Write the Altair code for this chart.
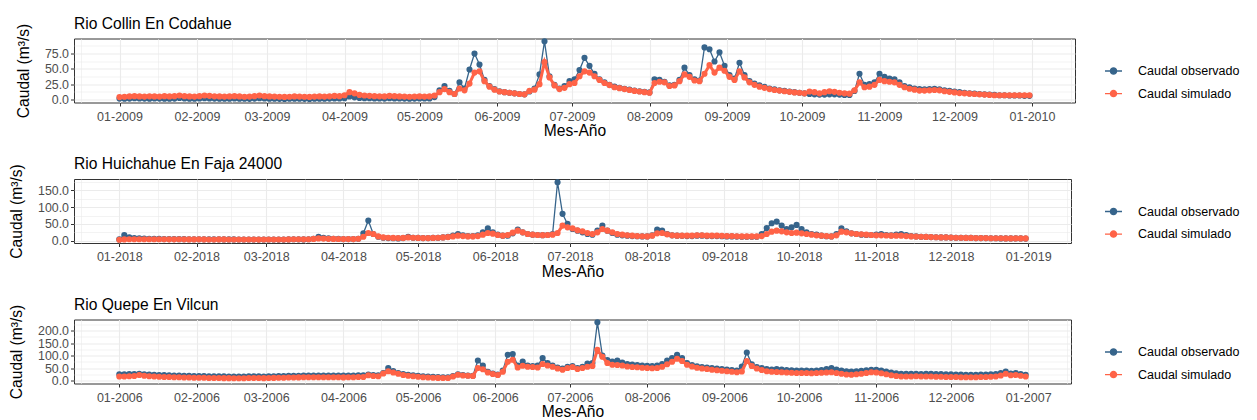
import altair as alt
import pandas as pd

# ---------------------------------------------------------------- data
SERIES = ["Caudal observado", "Caudal simulado"]
COLORS = ["#36648B", "#FF6347"]
STEP_DAYS = 2  # one reading every two days, starting on 1 January

TITLES = ["Rio Collin En Codahue", "Rio Huichahue En Faja 24000", "Rio Quepe En Vilcun"]
YEARS = [2009, 2018, 2006]
X_TITLE = "Mes-Año"
Y_TITLE = "Caudal (m³/s)"

OBS_1 = [1.5, 1.2, 1.5, 2.0, 1.8, 1.5, 1.4, 1.6, 1.5, 1.3,
         1.2, 1.5, 2.5, 1.8, 1.4, 1.3, 1.6, 2.2, 1.8, 1.5,
         1.3, 1.2, 1.4, 1.8, 1.4, 1.2, 1.1, 1.5, 2.2, 1.6,
         1.3, 1.2, 1.1, 1.0, 1.2, 1.4, 1.2, 1.1, 1.0, 1.2,
         1.4, 1.3, 1.5, 1.8, 1.6, 2.0, 5.0, 3.5, 2.5, 2.2,
         2.0, 1.8, 1.6, 1.5, 2.0, 1.8, 1.6, 1.5, 1.4, 1.5,
         1.8, 1.6, 1.8, 4.0, 15, 22, 14, 9, 28, 18,
         49, 75, 57, 32, 22, 17, 13.5, 12, 11, 10,
         9, 8.5, 13, 18, 41, 95, 38, 24, 18, 22,
         30, 33, 48, 68, 55, 42, 33, 28, 24, 21,
         19, 17.5, 16, 14.5, 13.5, 12.5, 11.5, 33, 32, 29,
         23, 24, 32, 52, 40, 33, 31, 85, 82, 62,
         77, 55, 40, 34, 60, 40, 30, 26, 23, 20.5,
         18, 16.5, 15, 14, 13, 12, 11, 10, 9, 8.5,
         8, 8, 8.5, 8.5, 8, 7.5, 7.5, 14, 42, 24,
         25, 28, 42, 37, 34, 33, 28, 22, 20, 18,
         17, 16.5, 17, 17.5, 16.5, 15, 14, 13, 12, 11,
         10, 9.5, 9, 8.5, 8, 7.5, 7, 7, 6.5, 6.5,
         6.5, 6, 6]
SIM_1 = [4.0, 4.5, 5.0, 5.5, 5.0, 4.8, 5.2, 5.0, 4.8, 5.5,
         5.0, 5.5, 6.5, 5.5, 5.0, 4.8, 5.5, 6.5, 6.0, 5.2,
         5.0, 4.8, 5.0, 5.5, 5.0, 4.5, 4.8, 5.5, 6.5, 5.5,
         5.0, 4.8, 4.5, 4.2, 4.5, 5.0, 4.8, 4.5, 4.2, 4.8,
         5.0, 4.8, 5.2, 5.8, 5.5, 7.0, 12, 10, 7.5, 6.5,
         6.0, 5.5, 5.2, 5.0, 5.8, 5.5, 5.0, 4.8, 4.5, 4.8,
         5.0, 4.8, 5.0, 6.5, 12, 17, 12, 9, 18, 15,
         26, 44, 46, 30, 21, 16, 13, 12, 11, 10,
         9, 8.5, 14, 16, 25, 61, 36, 23, 17, 19,
         25, 27, 38, 46, 44, 38, 32, 27, 23.5, 20,
         18.5, 17, 15.5, 14, 13, 12, 11, 27, 29, 28,
         22, 23, 30, 41, 37, 31, 30, 42, 56, 44,
         52, 47, 37, 32, 46, 36, 28, 24, 21, 19,
         17, 15.5, 14.5, 13.5, 12.5, 11.5, 11, 10, 13, 12,
         10, 12, 13.5, 12.5, 11, 10, 9.5, 15, 28, 20,
         21, 24, 32, 30, 29, 28, 24, 20, 17.5, 16,
         14.5, 14.5, 15, 15.5, 15, 13.5, 12.5, 11.5, 10.5, 10,
         9.5, 9, 8.5, 8, 7.5, 7, 7, 7, 7, 7,
         7, 7, 7]

OBS_2 = [4, 17, 10, 8, 7, 6.5, 6, 5.5, 5.5, 5,
         5, 5, 4.8, 4.6, 4.5, 4.5, 4.4, 4.3, 4.2, 4.2,
         4.2, 4, 4, 3.9, 3.8, 3.8, 3.8, 3.7, 3.7, 3.6,
         3.6, 3.6, 3.5, 3.5, 4, 4.5, 4.2, 4, 4.5, 6,
         12, 9, 7, 6, 5.5, 5, 5, 5, 6, 22,
         60, 20, 12, 9, 8, 7.5, 7, 8, 12, 9,
         8.5, 8, 8, 8.5, 9, 10, 12, 15, 20, 16,
         14, 14, 16, 25, 37, 25, 18, 15, 15, 22,
         33, 25, 20, 18, 17, 16.5, 17, 20, 174, 80,
         50, 35, 30, 25, 20, 18, 30, 45, 30, 23,
         18, 16, 15, 14, 13.5, 13, 13, 16, 33, 30,
         20, 16, 15, 14.5, 14, 14, 15, 15, 14, 14,
         14, 13.5, 13, 13, 12.5, 12, 12, 12, 12, 20,
         38, 52, 57, 45, 35, 40, 47, 35, 25, 20,
         18, 15, 13.5, 13, 20, 37, 28, 22, 20, 18,
         17, 17, 18, 20, 17, 16, 18, 20, 17, 14,
         13, 12, 11.5, 11, 10.5, 10, 10, 9.5, 9, 9,
         8.5, 8.5, 8, 8, 8, 7.5, 7.5, 7, 7, 7,
         7, 7, 6.5]
SIM_2 = [3, 4, 4.5, 4.5, 4.5, 4.5, 4.5, 4.5, 4.5, 4.5,
         4.2, 4.3, 4.5, 4.2, 4, 4, 4.2, 4, 3.8, 3.8,
         4, 4, 3.8, 3.8, 3.8, 3.6, 3.8, 3.6, 3.5, 3.6,
         3.6, 3.8, 3.6, 3.6, 4, 4.5, 4.4, 4.2, 4.5, 5.5,
         7, 6.5, 5.8, 5.5, 5.2, 5, 5, 5, 6, 12,
         23, 20, 13, 10, 9, 8.5, 8, 8.5, 10, 9,
         8.5, 8, 8, 8.5, 9, 10, 11, 13, 15, 14,
         13, 13, 14, 18, 23, 21, 17, 15, 17, 24,
         30, 25, 20, 18, 17, 16.5, 17, 18, 23, 45,
         40, 37, 31, 28, 23, 20, 25, 35, 30, 25,
         20, 18, 16, 15, 14, 13.5, 13, 15, 22, 23,
         19, 16, 15, 15, 15, 15, 16, 16, 15, 15,
         15, 14.5, 14, 14, 13.5, 13, 13, 13, 13, 14,
         20, 27, 30, 28, 25, 23, 24, 22, 20, 18,
         16, 15, 14, 13, 16, 27, 25, 22, 20, 19,
         18, 17, 16, 16, 15.5, 15, 15, 15, 14, 13,
         12.5, 12, 11.5, 11, 10.5, 10, 10, 9.5, 9, 9,
         8.5, 8.5, 8, 8, 8, 7.5, 7.5, 7.5, 7, 7,
         7, 7, 7]

OBS_3 = [25, 25, 26, 26, 27, 25, 24, 23, 22, 22,
         21, 20, 20, 19, 19, 18, 18, 18, 17, 17,
         17, 17, 16, 16, 16, 16, 17, 17, 17, 16,
         17, 17, 18, 18, 19, 19, 19, 20, 20, 20,
         20, 20, 20, 20, 20, 20, 20, 20, 21, 21,
         24, 22, 21, 30, 50, 38, 30, 26, 23, 21,
         19, 17, 16, 15, 14, 13, 13, 18, 25, 22,
         20, 19, 80, 60, 35, 28, 24, 40, 103, 106,
         60, 76, 60, 58, 60, 90, 70, 60, 52, 48,
         55, 58, 50, 55, 68, 70, 233, 100, 82, 76,
         80, 72, 66, 64, 62, 60, 59, 58, 60, 66,
         80, 90, 103, 90, 70, 62, 57, 54, 52, 50,
         48, 46, 44, 42, 40, 56, 112, 65, 54, 50,
         46, 44, 46, 44, 42, 41, 40, 40, 40, 39,
         40, 42, 46, 50, 44, 40, 37, 36, 37, 39,
         41, 43, 43, 40, 36, 32, 29, 27, 27, 27,
         27, 26, 27, 27, 26, 26, 25, 25, 24, 24,
         23, 23, 23, 24, 24, 25, 26, 30, 36, 28,
         30, 26, 23]
SIM_3 = [16, 16, 17, 18, 22, 19, 17, 16, 15, 14,
         14, 13, 13, 12, 12, 11, 11, 11, 10, 10,
         10, 9.5, 9.5, 9, 9, 9, 10, 10, 10, 9.5,
         10, 10.5, 11, 11, 12, 12, 12.5, 13, 13, 13,
         13, 13, 13, 13, 13, 12.5, 13, 13, 14, 14,
         21, 18, 17, 28, 37, 32, 27, 22, 19, 17,
         15, 13, 12, 11, 10.5, 10, 10, 16, 23, 20,
         19, 18, 50, 45, 32, 26, 22, 35, 75, 83,
         52, 59, 55, 54, 52, 66, 60, 55, 48, 43,
         50, 54, 46, 50, 55, 58, 123, 95, 70, 63,
         62, 60, 56, 54, 53, 51, 50, 49, 50, 55,
         65, 75, 87, 78, 63, 56, 51, 48, 46, 43,
         41, 39, 37, 35, 33, 36, 78, 58, 48, 42,
         37, 35, 34, 33, 32, 31, 30, 30, 30, 29,
         30, 31, 32, 33, 30, 27, 24, 23, 25, 27,
         30, 33, 32, 29, 25, 21, 18, 16, 16, 16,
         17, 16, 16, 16, 15, 15, 14, 14, 14, 13,
         13, 13, 13, 14, 14, 15, 16, 20, 27, 21,
         22, 19, 16]

Y_DOMAINS = [[-4.9, 99.6], [-6.7, 183.7], [-12.0, 244.3]]
Y_MAJOR = [[0, 25, 50, 75], [0, 50, 100, 150], [0, 50, 100, 150, 200]]
Y_MINOR = [[12.5, 37.5, 62.5, 87.5], [25, 75, 125, 175], [25, 75, 125, 175, 225]]

# ---------------------------------------------------------------- style
FONT = "Liberation Sans"
GRID = "#EBEBEB"
SYMBOL = "M-1,0L1,0M0.36,0A0.36,0.36,0,1,1,-0.36,0A0.36,0.36,0,1,1,0.36,0Z"
PANEL_H = 64
WIDTHS = [1001, 997, 997]
LEGEND_X = 1030


def to_ms(ts):
    return int(pd.Timestamp(ts).value // 1_000_000)


def panel(title, year, obs, sim, ydomain, ymajor, yminor, width):
    start = pd.Timestamp(year=year, month=1, day=1)
    n = len(obs)
    fechas = [to_ms(start + pd.Timedelta(days=STEP_DAYS * i)) for i in range(n)]
    df_obs = pd.DataFrame({"fecha": fechas, "caudal": obs, "serie": SERIES[0]})
    df_sim = pd.DataFrame({"fecha": fechas, "caudal": sim, "serie": SERIES[1]})

    span = STEP_DAYS * (n - 1)
    pad = 0.05 * span
    xdomain = [to_ms(start - pd.Timedelta(days=pad)),
               to_ms(start + pd.Timedelta(days=span + pad))]
    months = [pd.Timestamp(year=year + (m // 12), month=m % 12 + 1, day=1) for m in range(-1, 14)]
    xmajor = [to_ms(m) for m in months[1:14]]
    xminor = [to_ms(months[i] + (months[i + 1] - months[i]) / 2) for i in range(len(months) - 1)]
    xminor = [v for v in xminor if xdomain[0] <= v <= xdomain[1]]

    xscale = alt.Scale(type="utc", domain=xdomain, nice=False)
    yscale = alt.Scale(domain=ydomain, nice=False, zero=False)
    cscale = alt.Scale(domain=SERIES, range=COLORS)

    legend = alt.Legend(title=None, orient="none", legendX=LEGEND_X, legendY=23,
                        symbolType=SYMBOL, symbolSize=289, symbolStrokeWidth=1.4,
                        labelFont=FONT, labelFontSize=12.5, labelColor="black",
                        labelOffset=15, rowPadding=6.6, padding=0)
    color = alt.Color("serie:N", scale=cscale, legend=legend)

    grid_x = alt.Axis(values=xminor, grid=True, gridColor=GRID, gridWidth=0.6, labels=False,
                      ticks=False, domain=False, title=None, orient="bottom")
    grid_y = alt.Axis(values=yminor, grid=True, gridColor=GRID, gridWidth=0.6, labels=False,
                      ticks=False, domain=False, title=None, orient="left")
    main_x = alt.Axis(values=xmajor, format="%m-%Y", orient="bottom", title=X_TITLE,
                      grid=True, gridColor=GRID, gridWidth=1.1, labelOverlap=False,
                      labelFlush=False, labelFontSize=12.5, labelPadding=4, titlePadding=1)
    main_y = alt.Axis(values=ymajor, format=".1f", orient="left", title=Y_TITLE,
                      grid=True, gridColor=GRID, gridWidth=1.1, labelOverlap=False,
                      labelFontSize=12.4, labelPadding=2, titlePadding=13)

    minor = alt.Chart(df_obs).mark_line(opacity=0).encode(
        x=alt.X("fecha:T", scale=xscale, axis=grid_x),
        y=alt.Y("caudal:Q", scale=yscale, axis=grid_y))
    obs_line = alt.Chart(df_obs).mark_line(strokeWidth=1.3).encode(
        x=alt.X("fecha:T", scale=xscale, axis=main_x),
        y=alt.Y("caudal:Q", scale=yscale, axis=main_y), color=color)
    obs_pts = alt.Chart(df_obs).mark_circle(size=38, opacity=1).encode(
        x=alt.X("fecha:T", scale=xscale, axis=None),
        y=alt.Y("caudal:Q", scale=yscale, axis=None), color=color)
    sim_line = alt.Chart(df_sim).mark_line(strokeWidth=3).encode(
        x=alt.X("fecha:T", scale=xscale, axis=None),
        y=alt.Y("caudal:Q", scale=yscale, axis=None), color=color)
    sim_pts = alt.Chart(df_sim).mark_circle(size=38, opacity=1).encode(
        x=alt.X("fecha:T", scale=xscale, axis=None),
        y=alt.Y("caudal:Q", scale=yscale, axis=None), color=color)

    return alt.layer(minor, obs_line, obs_pts, sim_line, sim_pts).resolve_axis(
        x="independent", y="independent").properties(
        width=width, height=PANEL_H,
        title=alt.TitleParams(title, anchor="start", frame="group", offset=-9))


panels = [panel(TITLES[i], YEARS[i],
                [OBS_1, OBS_2, OBS_3][i], [SIM_1, SIM_2, SIM_3][i],
                Y_DOMAINS[i], Y_MAJOR[i], Y_MINOR[i], WIDTHS[i]) for i in range(3)]

chart = alt.vconcat(*panels, spacing=15.5).resolve_scale(
    x="independent", y="independent", color="independent"
).configure(
    font=FONT, padding={"left": 0, "top": 7.5, "right": 5, "bottom": 0}
).configure_view(
    stroke="#333333", strokeWidth=1
).configure_axis(
    labelFont=FONT, titleFont=FONT, labelColor="#4D4D4D",
    tickColor="#333333", tickSize=3.5, tickWidth=1,
    titleFontSize=15.6, titleFontWeight="normal", titleColor="black", domain=False
).configure_title(
    font=FONT, fontSize=15.6, fontWeight="normal", color="black"
)

chart.save("out.html", embed_options={"renderer": "svg", "actions": False})
